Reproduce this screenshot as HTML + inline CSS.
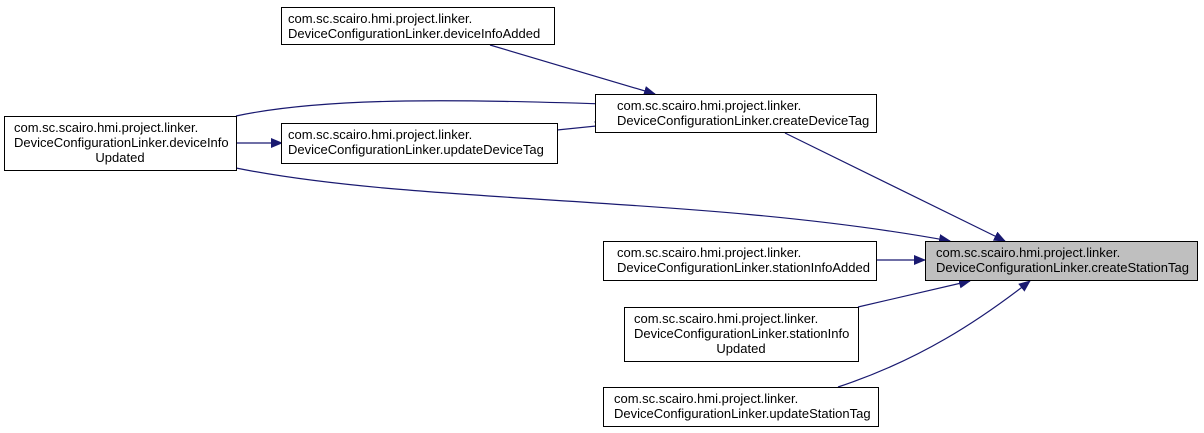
<!DOCTYPE html>
<html><head><meta charset="utf-8"><style>
html,body{margin:0;padding:0;background:#fff;}
svg{display:block;}
text{font-family:"Liberation Sans",Arial,sans-serif;font-size:13px;fill:#000;}
</style></head><body>
<svg width="1204" height="433" viewBox="0 0 1204 433" xmlns="http://www.w3.org/2000/svg">
<defs>
<marker id="a" markerWidth="12" markerHeight="10" refX="11" refY="5" orient="auto" markerUnits="userSpaceOnUse">
<path d="M0,0 L12,5 L0,10 Z" fill="#191970"/>
</marker>
</defs>
<g fill="none" stroke="#191970" stroke-width="1.2" marker-end="url(#a)">
<path d="M490,45 L655,94"/>
<path d="M236,116 C330,96 470,100 606,104"/>
<path d="M557,130 L606,125"/>
<path d="M237,143 L282,143"/>
<path d="M785,133 L1005,241"/>
<path d="M236,168 C420,205 700,195 950,241"/>
<path d="M876,260 L925,260"/>
<path d="M858,307 L970,281"/>
<path d="M838,387 C920,360 980,320 1030,281"/>
</g>
<g stroke="#000" stroke-width="1" fill="#fff">
<rect x="281.5" y="7.5" width="273" height="37"/>
<rect x="595.5" y="94.5" width="281" height="38"/>
<rect x="4.5" y="116.5" width="232" height="54"/>
<rect x="281.5" y="123.5" width="276" height="40"/>
<rect x="925.5" y="241.5" width="272" height="39" fill="#bfbfbf"/>
<rect x="603.5" y="241.5" width="273" height="39"/>
<rect x="624.5" y="307.5" width="234" height="54"/>
<rect x="603.5" y="387.5" width="275" height="39"/>
</g>
<text x="288" y="23">com.sc.scairo.hmi.project.linker.</text>
<text x="288" y="38">DeviceConfigurationLinker.deviceInfoAdded</text>
<text x="617" y="110">com.sc.scairo.hmi.project.linker.</text>
<text x="617" y="125">DeviceConfigurationLinker.createDeviceTag</text>
<text x="14" y="132">com.sc.scairo.hmi.project.linker.</text>
<text x="14" y="147">DeviceConfigurationLinker.deviceInfo</text>
<text x="120" y="162" text-anchor="middle">Updated</text>
<text x="288" y="139">com.sc.scairo.hmi.project.linker.</text>
<text x="288" y="154">DeviceConfigurationLinker.updateDeviceTag</text>
<text x="936" y="257">com.sc.scairo.hmi.project.linker.</text>
<text x="936" y="272">DeviceConfigurationLinker.createStationTag</text>
<text x="617" y="257">com.sc.scairo.hmi.project.linker.</text>
<text x="617" y="272">DeviceConfigurationLinker.stationInfoAdded</text>
<text x="634" y="323">com.sc.scairo.hmi.project.linker.</text>
<text x="634" y="338">DeviceConfigurationLinker.stationInfo</text>
<text x="741" y="353" text-anchor="middle">Updated</text>
<text x="614" y="403">com.sc.scairo.hmi.project.linker.</text>
<text x="614" y="418">DeviceConfigurationLinker.updateStationTag</text>
</svg>
</body></html>
